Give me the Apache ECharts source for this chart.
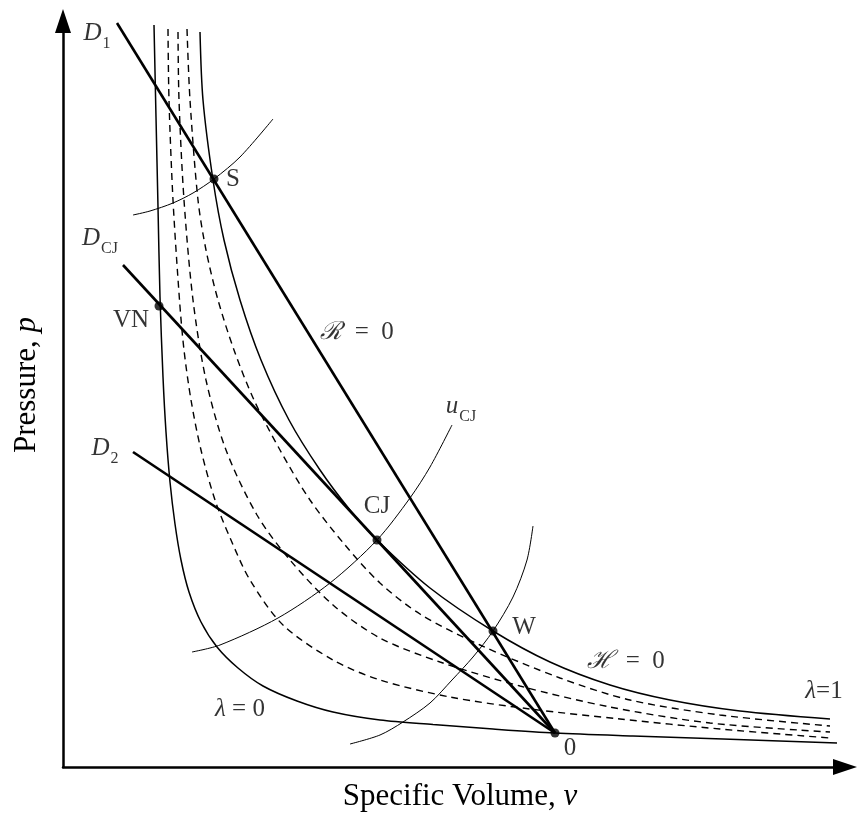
<!DOCTYPE html>
<html><head><meta charset="utf-8">
<script src="https://cdn.jsdelivr.net/npm/echarts/dist/echarts.min.js"></script>
<style>html,body{margin:0;padding:0;background:#fff}#c{width:858px;height:813px}</style>
</head><body><div id="c"></div>
<script>
// Values in arbitrary units: [specific volume v, pressure p]
const lambda0 = [[91,742],[93,650],[95,560],[97,470],[100,390],[103,335],[107,285],[112,243],[118,207],[126,175],[138,145],[154,120],[175,99],[200,81],[234,66],[270,55],[317,47],[370,42.5],[430,38],[492,34],[570,31],[660,28],[774,24]];
const lambda1 = [[137,735],[140,667],[150,587],[161,527],[177,467],[198,407],[226,347],[257,297],[287,257],[314,227],[367,179],[430,136],[487,105],[547,82],[607,67],[677,56],[767,48]];
const dashA = [[105,738],[106,667],[110,567],[116.5,467],[121,417],[128,367],[138,317],[152,267],[168,227],[187,187],[220,142],[270,107],[317,87],[387,70],[467,58],[557,48],[657,38],[767,29]];
const dashB = [[115,735],[116,667],[121,567],[130,467],[143,387],[163,317],[194,252],[227,207],[270,162],[317,129],[377,105],[457,81],[547,60],[647,44],[767,35]];
const dashC = [[124,738],[127,667],[135,567],[143,517],[155,467],[171,417],[191,367],[217,317],[247,267],[282,222],[317,184],[357,153],[417,122],[497,89],[567,67],[657,52],[767,41]];
const rayleighD1 = [[54,744],[492,34]];
const rayleighDCJ = [[60,502],[492,34]];
const rayleighD2 = [[70,315],[492,34]];
const arcS = [[70,552],[87,556],[110,564],[130,574],[151,588],[177,610],[210,648]];
const arcCJ = [[129,115],[157,122],[215,149],[267,184],[314,227],[347,269],[367,300],[389,342]];
const arcW = [[287,23],[317,32],[340,45],[367,64],[389,87],[410,110],[430,136],[450,170],[464,207],[470,241]];
const statePoints = [[151,588],[96,461],[314,227],[430,136],[492,34]];
const labelPoints = [[34,731],[37,526],[42,316],[68,444],[170,585],[314,258],[461,137],[294,432],[398,358],[563,103],[761,73],[177,55],[507,16]];
const labelTexts = ['{di|D}{sub|1}','{di|D}{sub|CJ}','{di|D}{sub|2}','{r|VN}','{r|S}','{r|CJ}','{r|W}','{cal|ℛ}{r|  =  0}','{di|u}{sub|CJ}','{cal|ℋ}{r|  =  0}','{di|λ}{r|=1}','{di|λ}{r| = 0}','{r|0}'];

const F = '"Liberation Serif", "DejaVu Serif", serif';
const rich = {
  r: {fontFamily: F, fontSize: 25, lineHeight: 30, verticalAlign: 'top', color: '#000'},
  di: {fontFamily: F, fontSize: 25, fontStyle: 'italic', lineHeight: 30, verticalAlign: 'top', color: '#000'},
  cal: {fontFamily: '"DejaVu Serif", serif', fontSize: 25, fontStyle: 'italic', lineHeight: 30, verticalAlign: 'top', color: '#000'},
  sub: {fontFamily: F, fontSize: 16, lineHeight: 16, padding: [15, 0, 0, 1], verticalAlign: 'top', color: '#000'}
};

function curve(data, width, dashed) {
  return {type: 'line', data: data, smooth: 0.3, showSymbol: false, clip: false, silent: true,
    lineStyle: {color: '#000', width: width, type: dashed ? [7, 5] : 'solid'}};
}
function ray(data) {
  return {type: 'line', data: data, showSymbol: false, clip: false, silent: true, lineStyle: {color: '#000', width: 2.6}};
}

const chart = echarts.init(document.getElementById('c'), null, {renderer: 'canvas'});
chart.setOption({
  animation: false,
  backgroundColor: '#fff',
  grid: {left: 63, right: 13, top: 21, bottom: 46},
  xAxis: {type: 'value', min: 0, max: 782, splitLine: {show: false}, axisTick: {show: false}, axisLabel: {show: false},
    axisLine: {show: true, symbol: ['none', 'triangle'], symbolSize: [16, 24], lineStyle: {color: '#000', width: 2.5}}},
  yAxis: {type: 'value', min: 0, max: 746, splitLine: {show: false}, axisTick: {show: false}, axisLabel: {show: false},
    axisLine: {show: true, symbol: ['none', 'triangle'], symbolSize: [16, 24], lineStyle: {color: '#000', width: 2.5}}},
  graphic: [
    {type: 'text', x: 460, y: 797, style: {text: '{r|Specific Volume, }{i|ν}', align: 'center', verticalAlign: 'middle',
      rich: {r: {fontFamily: F, fontSize: 31, fill: '#000'}, i: {fontFamily: F, fontSize: 31, fontStyle: 'italic', fill: '#000'}}}},
    {type: 'text', x: 27, y: 385, rotation: Math.PI / 2, style: {text: '{r|Pressure, }{i|p}', align: 'center', verticalAlign: 'middle',
      rich: {r: {fontFamily: F, fontSize: 31, fill: '#000'}, i: {fontFamily: F, fontSize: 31, fontStyle: 'italic', fill: '#000'}}}}
  ],
  series: [
    curve(lambda0, 1.5, false),
    curve(dashA, 1.4, true),
    curve(dashB, 1.4, true),
    curve(dashC, 1.4, true),
    curve(lambda1, 1.5, false),
    curve(arcS, 1, false),
    curve(arcCJ, 1, false),
    curve(arcW, 1, false),
    ray(rayleighD1),
    ray(rayleighDCJ),
    ray(rayleighD2),
    {type: 'scatter', data: statePoints, symbol: 'circle', symbolSize: 9, itemStyle: {color: '#000'}, z: 5, silent: true},
    {type: 'scatter', data: labelPoints.map((pt, i) => ({value: pt, label: {formatter: labelTexts[i]}})),
      symbolSize: 0, z: 6, silent: true,
      label: {show: true, position: 'inside', rich: rich}}
  ]
});
</script></body></html>
